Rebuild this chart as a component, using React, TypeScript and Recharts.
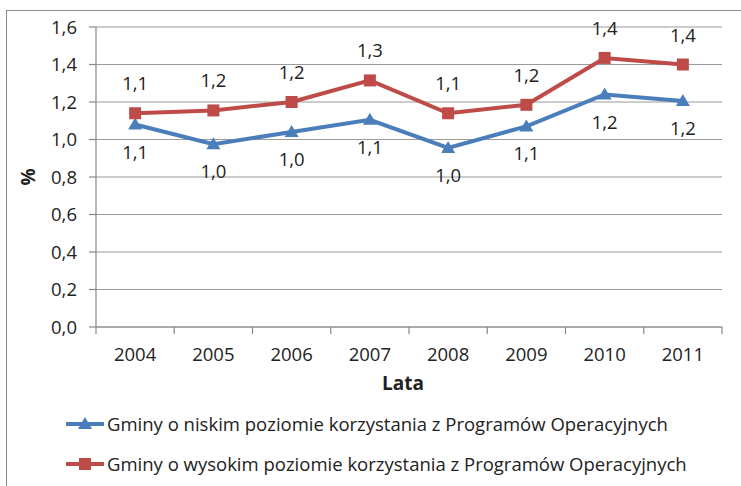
import React from 'react';
import { LineChart, Line, XAxis, YAxis, CartesianGrid, LabelList } from 'recharts';

const years = ['2004', '2005', '2006', '2007', '2008', '2009', '2010', '2011'];
const lowValues = [1.08, 0.975, 1.04, 1.105, 0.955, 1.07, 1.24, 1.205];
const highValues = [1.14, 1.155, 1.2, 1.315, 1.14, 1.185, 1.435, 1.4];
const yTicks = [0, 0.2, 0.4, 0.6, 0.8, 1.0, 1.2, 1.4, 1.6];
const lowName = 'Gminy o niskim poziomie korzystania z Programów Operacyjnych';
const highName = 'Gminy o wysokim poziomie korzystania z Programów Operacyjnych';

const data = years.map((y, i) => ({ idx: i + 0.5, year: y, low: lowValues[i], high: highValues[i] }));
const xTicks: number[] = [];
for (let i = 0; i <= 16; i++) xTicks.push(i / 2);

const FONT = '"Open Sans", "Liberation Sans", sans-serif';
const BLUE = '#4A7EBB';
const RED = '#BE4B48';
const fmt = (v: number) => v.toFixed(1).replace('.', ',');

const XTick = (props: any) => {
  const { x, y, payload } = props;
  const v = payload.value as number;
  if (Number.isInteger(v)) {
    return <line x1={x} x2={x} y1={y} y2={y + 7} stroke="#888" strokeWidth={1.2} />;
  }
  const label = years[Math.floor(v)];
  return (
    <text x={x} y={y + 34} textAnchor="middle" fontFamily={FONT} fontSize={18.5} fill="#222">
      {label}
    </text>
  );
};

const Tri = (props: any) => {
  const { cx, cy } = props;
  if (cx == null || cy == null) return null;
  return <path d={`M${cx},${cy - 7} L${cx + 7},${cy + 5} L${cx - 7},${cy + 5} Z`} fill={BLUE} />;
};
const Sq = (props: any) => {
  const { cx, cy } = props;
  if (cx == null || cy == null) return null;
  return <rect x={cx - 6} y={cy - 6} width={12} height={12} fill={RED} />;
};

const makeLabel = (dy: number) => (props: any) => {
  const { x, y, value } = props;
  return (
    <text x={x} y={y + dy} textAnchor="middle" fontFamily={FONT} fontSize={18.5} fill="#222">
      {fmt(value)}
    </text>
  );
};

export default function App() {
  return (
    <div style={{ position: 'absolute', left: 0, top: 0, width: 741, height: 486, overflow: 'hidden', background: '#fff' }}>
      <div style={{ position: 'absolute', left: 6, top: 10, width: 800, height: 520, border: '1px solid #8a8a8a' }} />
      <LineChart width={741} height={486} data={data} margin={{ top: 27, right: 19, bottom: 129, left: 36 }}>
        <CartesianGrid horizontal={true} vertical={false} stroke="#9a9a9a" strokeWidth={1.2} />
        <XAxis
          dataKey="idx"
          type="number"
          domain={[0, 8]}
          ticks={xTicks}
          interval={0}
          height={30}
          tickLine={false}
          tickSize={0}
          tickMargin={0}
          axisLine={{ stroke: '#888', strokeWidth: 1.2 }}
          tick={<XTick />}
        />
        <YAxis
          width={60}
          domain={[0, 1.6]}
          ticks={yTicks}
          interval={0}
          tickSize={7}
          tickMargin={12}
          tickFormatter={fmt}
          tickLine={{ stroke: '#888', strokeWidth: 1.2 }}
          axisLine={{ stroke: '#888', strokeWidth: 1.2 }}
          tick={{ fontFamily: FONT, fontSize: 18.5, fill: '#222' }}
        />
        <Line dataKey="low" name={lowName} stroke={BLUE} strokeWidth={4} dot={<Tri />} isAnimationActive={false}>
          <LabelList dataKey="low" content={makeLabel(34)} />
        </Line>
        <Line dataKey="high" name={highName} stroke={RED} strokeWidth={4} dot={<Sq />} isAnimationActive={false}>
          <LabelList dataKey="high" content={makeLabel(-23)} />
        </Line>
        <text x={30} y={177} transform="rotate(-90 30 177)" textAnchor="middle" dominantBaseline="middle" fontFamily={FONT} fontWeight="bold" fontSize={19} fill="#222">%</text>
        <text x={403} y={390} textAnchor="middle" fontFamily={FONT} fontWeight="bold" fontSize={19} fill="#222">Lata</text>
      </LineChart>
      <svg style={{ position: 'absolute', left: 0, top: 405 }} width={741} height={80}>
        <line x1={66} x2={104} y1={19} y2={19} stroke={BLUE} strokeWidth={4} />
        <path d="M85,12 L92,24 L78,24 Z" fill={BLUE} />
        <text x={107} y={25.5} fontFamily={FONT} fontSize={18.5} fill="#222">{lowName}</text>
        <line x1={66} x2={104} y1={59} y2={59} stroke={RED} strokeWidth={4} />
        <rect x={79} y={53} width={12} height={12} fill={RED} />
        <text x={107} y={65.5} fontFamily={FONT} fontSize={18.5} fill="#222">{highName}</text>
      </svg>
    </div>
  );
}
